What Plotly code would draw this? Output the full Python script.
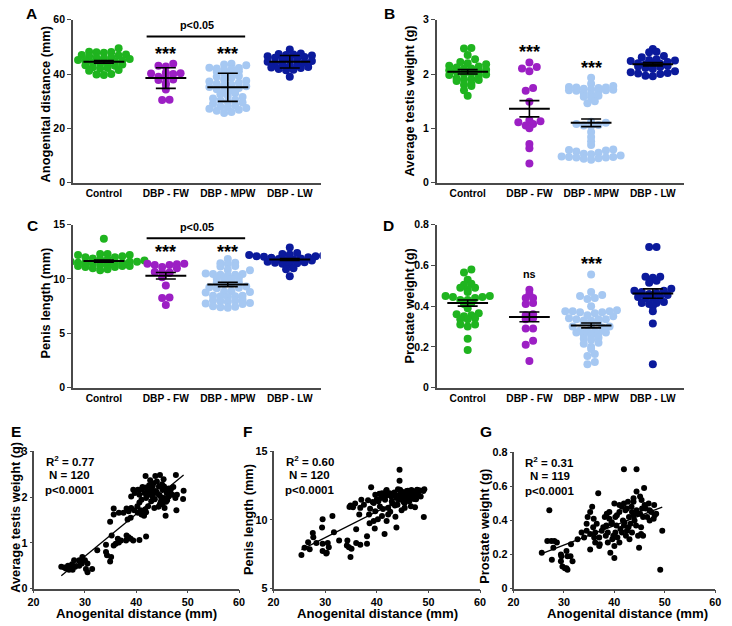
import numpy as np
import plotly.graph_objects as go

W, H = 732, 626
FONT = "Liberation Sans, Arial, sans-serif"
AXC = "#4a4a4a"

groups = ["Control", "DBP - FW", "DBP - MPW", "DBP - LW"]
group_colors = ["#1fb41f", "#9c1fc4", "#a6c8f2", "#0b1a9c"]

# ---------------- Panel A: anogenital distance (mm)
agd_control = [49.5, 48.2, 48.0, 47.8, 48.1, 47.2, 47.0, 46.8, 46.5, 46.2, 46.0, 45.8, 45.5, 45.2, 45.0,
               44.8, 44.5, 44.3, 44.0, 43.8, 43.5, 43.2, 43.0, 42.5, 42.2, 42.0, 41.5, 41.2, 40.0, 39.8, 39.6]
agd_fw = [43.8, 43.0, 42.8, 40.5, 40.3, 40.2, 40.0, 39.0, 38.8, 38.0, 37.8, 36.6, 36.0, 34.3, 30.4, 30.5]
agd_mpw = [43.8, 43.5, 43.2, 42.2, 42.0, 41.8, 41.6, 42.3, 41.0, 40.8, 40.5, 40.2, 39.3, 39.0, 38.6, 38.0,
           37.5, 37.2, 36.8, 36.4, 36.0, 35.8, 35.5, 35.2, 34.8, 34.4, 34.0, 33.6, 33.0, 32.5, 32.0, 31.5,
           31.0, 30.5, 30.2, 29.8, 29.5, 29.0, 28.5, 28.0, 27.8, 27.5, 27.2, 26.8, 26.5, 26.0, 25.6]
agd_lw = [49.0, 47.6, 47.4, 47.2, 47.0, 46.8, 46.5, 46.3, 46.0, 45.5, 45.2, 45.0, 44.8, 44.5, 44.0, 43.6,
          43.4, 43.0, 42.6, 42.4, 42.2, 41.8, 41.6, 41.4, 39.0, 44.2]
agd_mean = [44.5, 38.5, 35.1, 44.5]
agd_err = [0.5, 3.8, 5.2, 2.3]

# ---------------- Panel B: average testis weight (g)
testis_control = [2.48, 2.47, 2.35, 2.27, 2.22, 2.20, 2.18, 2.15, 2.14, 2.12, 2.10, 2.08, 2.07, 2.05, 2.04,
                  2.02, 2.00, 1.99, 1.98, 1.97, 1.92, 1.91, 1.90, 1.89, 1.87, 1.82, 1.80, 1.78, 1.70, 1.60, 2.10]
testis_fw = [2.21, 2.13, 2.10, 2.05, 1.74, 1.69, 1.49, 1.15, 1.13, 1.11, 1.08, 1.05, 1.00, 0.71, 0.63, 0.35]
testis_mpw = [1.93, 1.82, 1.78, 1.76, 1.75, 1.75, 1.74, 1.73, 1.72, 1.71, 1.70, 1.70, 1.69, 1.68, 1.65, 1.63,
              1.60, 1.58, 1.57, 1.50, 1.46,
              1.12, 1.10, 1.08, 1.06, 1.05, 1.04, 0.93, 0.84, 0.76, 0.69,
              0.61, 0.60, 0.59, 0.57, 0.55, 0.53, 0.52, 0.50, 0.48, 0.47, 0.47, 0.46, 0.46, 0.45, 0.44, 0.42]
testis_lw = [2.46, 2.41, 2.40, 2.33, 2.31, 2.27, 2.26, 2.25, 2.24, 2.22, 2.20, 2.19, 2.18, 2.17, 2.15, 2.14,
             2.13, 2.11, 2.09, 2.05, 2.03, 2.02, 2.01, 2.00, 1.97, 1.96]
testis_mean = [2.04, 1.36, 1.10, 2.18]
testis_err = [0.04, 0.15, 0.07, 0.03]

# ---------------- Panel C: penis length (mm)
penis_control = [13.7, 12.3, 12.3, 12.2, 12.2, 12.1, 12.0, 12.0, 11.9, 11.8, 11.8, 11.7, 11.7, 11.6, 11.6,
                 11.5, 11.5, 11.5, 11.4, 11.4, 11.3, 11.3, 11.2, 11.2, 11.2, 11.1, 11.1, 11.0, 10.9, 10.8, 11.6]
penis_fw = [11.4, 11.4, 11.35, 11.3, 11.3, 11.1, 11.0, 10.65, 10.6, 10.6, 10.55, 10.15, 9.4, 8.3, 8.25, 7.6]
penis_mpw = [11.85, 11.5, 11.45, 11.4, 11.2, 11.15, 10.85, 10.8, 10.5, 10.45, 10.45, 10.4, 10.4, 10.35,
             10.1, 10.05, 10.0, 9.95, 9.7, 9.65, 9.6, 9.55, 9.3, 9.25, 9.2, 9.15, 8.9, 8.85, 8.8, 8.75,
             8.45, 8.45, 8.4, 8.4, 8.35, 8.1, 8.05, 8.0, 7.95, 7.9, 7.8, 7.75, 7.7, 7.5, 7.45, 7.4, 7.35]
penis_lw = [12.9, 12.4, 12.3, 12.25, 12.2, 12.2, 12.15, 12.1, 12.1, 12.05, 12.0, 11.95, 11.9, 11.85, 11.8,
            11.75, 11.7, 11.6, 11.55, 11.5, 11.45, 11.4, 11.35, 11.0, 10.9, 10.25]
penis_mean = [11.65, 10.3, 9.5, 11.8]
penis_err = [0.1, 0.3, 0.2, 0.08]

# ---------------- Panel D: prostate weight (g)
prostate_control = [0.58, 0.565, 0.53, 0.51, 0.505, 0.49, 0.49, 0.48, 0.47, 0.45, 0.45, 0.445, 0.445, 0.44,
                    0.43, 0.43, 0.415, 0.41, 0.39, 0.365, 0.36, 0.355, 0.35, 0.34, 0.335, 0.335, 0.31, 0.31,
                    0.30, 0.24, 0.185]
prostate_fw = [0.48, 0.46, 0.44, 0.44, 0.415, 0.41, 0.36, 0.355, 0.34, 0.335, 0.29, 0.29, 0.23, 0.21, 0.13]
prostate_mpw = [0.555, 0.47, 0.455, 0.45, 0.44, 0.435, 0.40, 0.38, 0.375, 0.375, 0.375, 0.37, 0.37, 0.365,
                0.355, 0.35, 0.34, 0.335, 0.335, 0.335, 0.33, 0.33, 0.325, 0.32, 0.31, 0.30, 0.30, 0.295,
                0.28, 0.275, 0.275, 0.27, 0.27, 0.265, 0.26, 0.255, 0.245, 0.24, 0.235, 0.22, 0.215, 0.20,
                0.19, 0.165, 0.155, 0.125, 0.115]
prostate_lw = [0.69, 0.69, 0.545, 0.545, 0.54, 0.525, 0.515, 0.485, 0.475, 0.475, 0.465, 0.46, 0.445, 0.445,
               0.44, 0.44, 0.42, 0.415, 0.415, 0.41, 0.40, 0.375, 0.315, 0.115, 0.47, 0.455]
prostate_mean = [0.415, 0.347, 0.305, 0.462]
prostate_err = [0.015, 0.024, 0.012, 0.023]

# ---------------- Panel E: AGD vs average testis weight
e_agd = [41.8, 43.7, 44.6, 47.7, 42.7, 44.0, 45.3, 42.5, 43.2, 44.4, 45.4, 46.3, 41.9, 39.4, 40.3, 41.0,
         42.2, 42.9, 43.8, 45.1, 45.7, 46.7, 49.2, 39.7, 40.6, 41.6, 42.5, 43.5, 44.4, 45.9, 47.0, 47.9,
         39.0, 41.9, 43.2, 45.4, 46.3, 47.6, 49.1, 41.0, 42.9, 44.8, 46.0, 45.1, 42.3, 43.5, 44.3, 45.5,
         47.8, 45.7, 41.7, 40.8, 40.2, 39.0,
         35.6, 36.6, 35.6, 38.1, 38.5, 39.6, 40.3, 41.0, 41.5, 38.9, 38.3, 34.9, 41.9, 37.5,
         35.2, 38.1, 38.5, 38.9, 38.0, 37.0, 36.6, 36.0, 35.6, 34.1, 41.9, 40.6, 39.4, 36.4, 32.4, 34.1,
         34.3, 34.9, 35.1,
         29.5, 30.0, 30.5, 27.9, 25.4, 26.0, 26.7, 27.1, 27.5, 28.1, 28.9, 29.4, 26.9, 27.6, 30.2, 30.5,
         31.4, 28.9, 26.3,
         42.0, 43.0, 44.0, 44.8, 45.8, 46.5, 43.6, 42.6, 41.2, 40.6, 47.2, 45.0, 43.3, 44.6]
e_testis = [2.46, 2.46, 2.48, 2.48, 2.37, 2.34, 2.39, 2.26, 2.24, 2.23, 2.23, 2.19, 2.21, 2.16, 2.16, 2.17,
            2.12, 2.16, 2.13, 2.16, 2.16, 2.16, 2.14, 2.09, 2.05, 2.09, 2.05, 2.09, 2.05, 2.09, 2.05, 2.05,
            2.01, 1.98, 2.00, 1.98, 2.01, 1.98, 1.96, 1.94, 1.91, 1.91, 1.93, 1.84, 1.80, 1.76, 1.79, 1.76,
            1.71, 1.59, 1.73, 1.71, 1.80, 1.76,
            1.75, 1.66, 1.62, 1.75, 1.69, 1.71, 1.66, 1.62, 1.59, 1.55, 1.51, 1.46, 1.67, 1.66,
            1.16, 1.16, 1.12, 1.09, 1.05, 1.05, 1.01, 0.98, 0.94, 0.96, 1.14, 1.06, 1.05, 1.09, 0.84, 0.80,
            0.73, 0.59, 0.69,
            0.69, 0.62, 0.55, 0.62, 0.48, 0.46, 0.50, 0.44, 0.53, 0.48, 0.50, 0.55, 0.41, 0.41, 0.43, 0.36,
            0.43, 0.62, 0.44,
            2.05, 2.18, 2.10, 2.00, 1.90, 2.08, 1.95, 2.12, 2.22, 1.88, 2.22, 2.28, 2.30, 1.85]

# ---------------- Panel F: AGD vs penis length
f_agd = [44.4, 44.4, 38.9, 41.9, 44.1, 49.2, 39.7, 41.0, 42.5, 43.5, 44.8, 45.4, 46.0, 46.7, 47.3, 47.9,
         48.4, 45.1, 45.7, 46.5, 47.2, 46.3, 45.4, 44.4, 42.9, 41.6, 40.3, 39.4, 38.3, 37.0, 34.9, 35.4,
         34.7, 36.8, 38.7, 39.7, 40.6, 42.2, 43.5, 45.4, 47.4, 36.6, 38.5, 41.0, 42.2, 43.6, 40.2, 39.4,
         41.9, 38.6, 39.6, 43.8, 41.5, 49.1, 31.4, 29.5, 29.4, 31.7, 27.6, 27.7, 26.7, 28.3, 26.0, 27.0,
         25.4, 29.5, 30.5, 30.7, 29.5, 30.2, 30.3, 32.7, 34.3, 34.6, 34.2, 35.1, 34.9, 36.0, 36.8, 36.0,
         38.1, 38.1,
         42.0, 42.8, 43.2, 43.8, 44.2, 44.6, 45.0, 45.3, 45.6, 46.0, 46.4, 46.8, 47.0, 47.5, 48.0, 48.5,
         49.0, 41.5, 40.8, 40.0, 39.2, 43.0, 44.0, 45.2, 46.2, 47.6, 46.6, 44.8, 42.6, 41.2, 37.5, 35.8,
         40.5, 41.8, 43.4, 44.5, 45.8, 47.8]
f_penis = [13.66, 12.85, 12.38, 12.19, 12.24, 12.24, 11.83, 11.95, 11.95, 11.76, 12.07, 11.95, 12.12, 12.19,
           12.07, 12.19, 12.14, 11.71, 11.60, 11.71, 11.52, 11.36, 11.24, 11.48, 11.36, 11.48, 11.36, 11.24,
           11.43, 11.48, 11.05, 10.93, 10.95, 10.88, 10.81, 10.64, 10.98, 10.88, 11.05, 10.88, 10.93, 10.40,
           10.40, 10.29, 10.40, 10.24, 10.05, 9.93, 9.93, 9.76, 9.38, 9.45, 8.98, 10.21, 10.29, 10.05, 9.45,
           9.10, 9.05, 8.74, 8.38, 8.33, 7.98, 7.86, 7.45, 8.26, 8.33, 8.02, 7.74, 7.55, 7.62, 8.50, 8.50,
           8.02, 8.14, 7.90, 7.31, 8.33, 8.19, 9.33, 8.81, 8.26,
           11.8, 11.7, 11.9, 11.6, 11.8, 11.9, 11.5, 11.8, 12.0, 11.7, 11.9, 11.6, 12.0, 11.8, 11.9, 11.7,
           12.1, 11.7, 11.6, 11.5, 11.3, 11.2, 11.1, 11.3, 11.4, 11.5, 11.0, 10.7, 10.6, 10.8, 11.1, 11.2,
           11.9, 12.1, 12.0, 12.2, 12.1, 12.2]

# ---------------- Panel G: AGD vs prostate weight
g_agd = [41.9, 44.4, 36.8, 45.9, 44.4, 43.8, 45.1, 42.7, 45.4, 40.0, 41.0, 41.9, 43.8, 46.0, 47.9, 35.6,
         41.5, 42.5, 43.4, 44.4, 46.2, 47.0, 27.1, 35.2, 39.0, 41.0, 42.2, 45.1, 47.3, 48.3, 34.7, 35.9,
         38.1, 39.0, 40.2, 41.7, 42.9, 43.8, 45.7, 47.8, 34.5, 38.4, 39.4, 40.4, 41.9, 43.2, 44.3, 45.3,
         34.5, 36.2, 37.5, 38.7, 40.2, 41.5, 42.5, 43.5, 45.3, 45.7, 49.5, 35.2, 37.0, 38.3, 39.6, 40.6,
         42.3, 26.7, 27.5, 28.1, 28.6, 36.2, 37.1, 38.7, 40.0, 31.4, 32.7, 27.9, 35.2, 37.0, 44.9, 25.6,
         29.4, 30.5, 31.3, 39.2, 40.0, 27.6, 29.5, 30.7, 31.7, 29.4, 29.7, 30.5, 30.7, 30.2, 49.1,
         38.5, 39.5, 40.5, 41.2, 42.0, 42.8, 43.5, 44.0, 44.6, 45.5, 46.5, 47.0, 46.8, 37.8, 36.5, 35.8,
         34.0, 33.5, 36.0, 39.8, 41.0, 43.0, 44.7, 48.0]
g_prostate = [0.70, 0.70, 0.56, 0.59, 0.57, 0.53, 0.54, 0.51, 0.52, 0.50, 0.49, 0.50, 0.51, 0.49, 0.49, 0.48,
              0.48, 0.47, 0.48, 0.46, 0.47, 0.46, 0.46, 0.45, 0.45, 0.45, 0.46, 0.44, 0.45, 0.44, 0.42, 0.41,
              0.42, 0.41, 0.42, 0.40, 0.42, 0.43, 0.42, 0.41, 0.38, 0.37, 0.38, 0.37, 0.37, 0.38, 0.37, 0.36,
              0.34, 0.33, 0.34, 0.33, 0.33, 0.33, 0.34, 0.33, 0.32, 0.31, 0.34, 0.32, 0.30, 0.31, 0.29, 0.30,
              0.31, 0.28, 0.28, 0.28, 0.27, 0.27, 0.26, 0.27, 0.25, 0.26, 0.29, 0.24, 0.23, 0.25, 0.24, 0.21,
              0.20, 0.22, 0.19, 0.21, 0.18, 0.17, 0.19, 0.19, 0.16, 0.16, 0.13, 0.12, 0.11, 0.12, 0.11,
              0.44, 0.39, 0.43, 0.35, 0.39, 0.36, 0.45, 0.40, 0.44, 0.47, 0.42, 0.40, 0.50, 0.36, 0.38, 0.36,
              0.30, 0.33, 0.30, 0.31, 0.27, 0.29, 0.31, 0.43]

stats_e = ["R<sup>2</sup> = 0.77", "N = 120", "p<0.0001"]
stats_f = ["R<sup>2</sup> = 0.60", "N = 120", "p<0.0001"]
stats_g = ["R<sup>2</sup> = 0.31", "N = 119", "p<0.0001"]


def swarm(vals, ppy, ppx, row_px=5.5, step_px=7.5):
    """GraphPad-like scatter offsets (category units): values grouped into rows, each row centred."""
    v = np.asarray(vals, float)
    ypx = v * ppy
    rows = np.floor((ypx - ypx.min()) / row_px).astype(int)
    offs = np.zeros(len(v))
    for r in np.unique(rows):
        idx = np.where(rows == r)[0]
        idx = idx[np.argsort(v[idx])]
        n = len(idx)
        slots = [(j - (n - 1) / 2.0) for j in range(n)]
        slots.sort(key=lambda s: (abs(s), s))
        for i, s in zip(idx, slots):
            offs[i] = s * step_px
    return offs / ppx


def pxx(x):
    return x / W


def pxy(y):
    return 1 - y / H


fig = go.Figure()
layout = dict(width=W, height=H, margin=dict(l=0, r=0, t=0, b=0), autosize=False,
              paper_bgcolor="white", plot_bgcolor="white", showlegend=False,
              font=dict(family=FONT, color="black"))
annotations = []
shapes = []

dot_panels = [
    dict(letter="A", data=[agd_control, agd_fw, agd_mpw, agd_lw], mean=agd_mean, err=agd_err,
         yr=(0, 60), dtick=20, title="Anogenital distance (mm)", dx=(68, 320), dy=(14, 180),
         lpos=(26, 8), tpos=(40, 100)),
    dict(letter="B", data=[testis_control, testis_fw, testis_mpw, testis_lw], mean=testis_mean,
         err=testis_err, yr=(0, 3), dtick=1, title="Average testis weight (g)", dx=(438, 689), dy=(14, 180),
         lpos=(390, 8), tpos=(410, 97)),
    dict(letter="C", data=[penis_control, penis_fw, penis_mpw, penis_lw], mean=penis_mean, err=penis_err,
         yr=(0, 15), dtick=5, title="Penis length (mm)", dx=(68, 320), dy=(223, 389),
         lpos=(27, 224), tpos=(40, 303)),
    dict(letter="D", data=[prostate_control, prostate_fw, prostate_mpw, prostate_lw], mean=prostate_mean,
         err=prostate_err, yr=(0, 0.8), dtick=0.2, title="Prostate weight (g)", dx=(438, 689), dy=(223, 389),
         lpos=(389, 224), tpos=(410, 306)),
]

axis_common = dict(showline=True, linecolor=AXC, linewidth=1.6, showgrid=False, zeroline=False,
                   ticks="outside", ticklen=4, tickwidth=1.4, tickcolor=AXC,
                   tickfont=dict(family=FONT, size=10.5, color="black", weight="bold"))

k = 0
for p in dot_panels:
    k += 1
    xa = "x" if k == 1 else f"x{k}"
    ya = "y" if k == 1 else f"y{k}"
    ppx = (p["dx"][1] - p["dx"][0]) / 4.0
    ppy = (p["dy"][1] - p["dy"][0]) / (p["yr"][1] - p["yr"][0])
    for gi, vals in enumerate(p["data"]):
        off = swarm(vals, ppy, ppx)
        fig.add_trace(go.Scatter(x=gi + off, y=vals, mode="markers", xaxis=xa, yaxis=ya,
                                 marker=dict(size=8, color=group_colors[gi], line=dict(width=0)),
                                 hoverinfo="skip"))
    for gi in range(4):
        m = p["mean"][gi]
        fig.add_trace(go.Scatter(x=[gi - 0.33, gi + 0.33], y=[m, m], mode="lines", xaxis=xa, yaxis=ya,
                                 line=dict(color="black", width=2), hoverinfo="skip"))
        fig.add_trace(go.Scatter(x=[gi], y=[m], mode="markers", xaxis=xa, yaxis=ya,
                                 marker=dict(size=1, color="rgba(0,0,0,0)"),
                                 error_y=dict(type="data", array=[p["err"][gi]], color="black",
                                              thickness=1.6, width=10),
                                 hoverinfo="skip"))
    xkey = "xaxis" if k == 1 else f"xaxis{k}"
    ykey = "yaxis" if k == 1 else f"yaxis{k}"
    layout[xkey] = dict(axis_common, domain=[pxx(p["dx"][0]), pxx(p["dx"][1])], anchor=ya,
                        range=[-0.5, 3.5], tickvals=[0, 1, 2, 3], ticktext=groups, ticks="", ticklen=0,
                        tickfont=dict(family=FONT, size=10.2, color="black", weight="bold"))
    layout[ykey] = dict(axis_common, domain=[pxy(p["dy"][1]), pxy(p["dy"][0])], anchor=xa,
                        range=list(p["yr"]), dtick=p["dtick"], tick0=0)
    annotations.append(dict(text=p["letter"], x=pxx(p["lpos"][0]), y=pxy(p["lpos"][1]), xref="paper",
                            yref="paper", showarrow=False, xanchor="center", yanchor="middle",
                            font=dict(size=15.5, weight="bold", family=FONT)))
    annotations.append(dict(text=p["title"], x=pxx(p["tpos"][0]), y=pxy(p["tpos"][1]), xref="paper",
                            yref="paper", showarrow=False, textangle=-90, xanchor="center",
                            yanchor="middle", font=dict(size=12.8, weight="bold", family=FONT)))


def txt(t, x, y, xa, ya, size):
    annotations.append(dict(text=t, x=x, y=y, xref=xa, yref=ya, showarrow=False, xanchor="center",
                            yanchor="middle", font=dict(size=size, weight="bold", family=FONT)))


txt("p<0.05", 1.5, 58.0, "x", "y", 10.8)
shapes.append(dict(type="line", x0=0.69, x1=2.28, y0=53.8, y1=53.8, xref="x", yref="y",
                   line=dict(color="black", width=2)))
txt("***", 1, 47.2, "x", "y", 18)
txt("***", 2, 47.2, "x", "y", 18)
txt("***", 1, 2.40, "x2", "y2", 18)
txt("***", 2, 2.11, "x2", "y2", 18)
txt("p<0.05", 1.5, 14.8, "x3", "y3", 10.8)
shapes.append(dict(type="line", x0=0.69, x1=2.28, y0=13.76, y1=13.76, xref="x3", yref="y3",
                   line=dict(color="black", width=2)))
txt("***", 1, 12.45, "x3", "y3", 18)
txt("***", 2, 12.45, "x3", "y3", 18)
txt("ns", 1, 0.556, "x4", "y4", 10.8)
txt("***", 2, 0.605, "x4", "y4", 18)

sc_panels = [
    dict(L="E", x=e_agd, y=e_testis, yr=(0, 3), dtick=1, title="Average testis weight (g)",
         dx=(28, 237), dy=(454, 594), lpos=(10, 434), tpos=(9, 521), xt=(133, 619), stats=stats_e),
    dict(L="F", x=f_agd, y=f_penis, yr=(5, 15), dtick=5, title="Penis length (mm)",
         dx=(272, 482), dy=(454, 594), lpos=(246, 434), tpos=(247, 523), xt=(378, 619), stats=stats_f),
    dict(L="G", x=g_agd, y=g_prostate, yr=(0, 0.8), dtick=0.2, title="Prostate weight (g)",
         dx=(516, 721), dy=(455, 594), lpos=(488, 434), tpos=(487, 531), xt=(632, 619), stats=stats_g),
]

for p in sc_panels:
    k += 1
    xa, ya = f"x{k}", f"y{k}"
    fig.add_trace(go.Scatter(x=p["x"], y=p["y"], mode="markers", xaxis=xa, yaxis=ya,
                             marker=dict(size=6, color="black"), hoverinfo="skip"))
    b, a = np.polyfit(p["x"], p["y"], 1)
    xr = np.array([min(p["x"]), max(p["x"])])
    fig.add_trace(go.Scatter(x=xr, y=a + b * xr, mode="lines", xaxis=xa, yaxis=ya,
                             line=dict(color="black", width=1.3), hoverinfo="skip"))
    tf = dict(family=FONT, size=10.8, color="black", weight="bold")
    layout[f"xaxis{k}"] = dict(axis_common, domain=[pxx(p["dx"][0]), pxx(p["dx"][1])], anchor=ya,
                               range=[20, 60], dtick=10, tick0=20, ticklen=3, tickfont=tf)
    layout[f"yaxis{k}"] = dict(axis_common, domain=[pxy(p["dy"][1]), pxy(p["dy"][0])], anchor=xa,
                               range=list(p["yr"]), dtick=p["dtick"], tick0=0, ticklen=2, tickfont=tf)
    annotations.append(dict(text=p["L"], x=pxx(p["lpos"][0]), y=pxy(p["lpos"][1]), xref="paper",
                            yref="paper", showarrow=False, xanchor="center", yanchor="middle",
                            font=dict(size=15.5, weight="bold", family=FONT)))
    annotations.append(dict(text=p["title"], x=pxx(p["tpos"][0]), y=pxy(p["tpos"][1]), xref="paper",
                            yref="paper", showarrow=False, textangle=-90, xanchor="center",
                            yanchor="middle", font=dict(size=12.8, weight="bold", family=FONT)))
    annotations.append(dict(text="Anogenital distance (mm)", x=pxx(p["xt"][0]), y=pxy(p["xt"][1]),
                            xref="paper", yref="paper", showarrow=False, xanchor="center",
                            yanchor="middle", font=dict(size=13.2, weight="bold", family=FONT)))
    cx = p["dx"][0] + 37
    for j, s in enumerate(p["stats"]):
        annotations.append(dict(text=s, x=pxx(cx), y=pxy(p["dy"][0] + 10 + 14.5 * j), xref="paper",
                                yref="paper", showarrow=False, xanchor="center", yanchor="middle",
                                font=dict(size=11.5, weight="bold", family=FONT)))

layout["annotations"] = annotations
layout["shapes"] = shapes
fig.update_layout(**layout)
fig.write_html("out.html", config={"displayModeBar": False},
               post_script="document.body.style.margin='0';")
